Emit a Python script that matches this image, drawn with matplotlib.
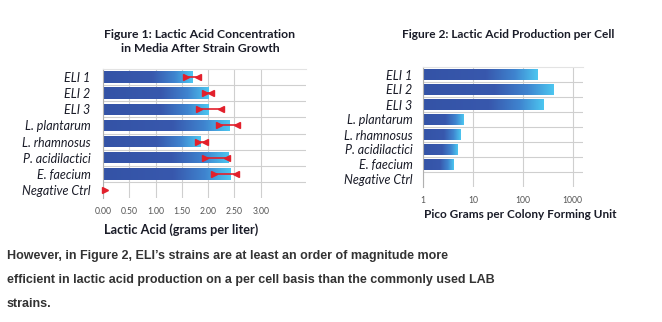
import numpy as np
import matplotlib
matplotlib.use("Agg")
import matplotlib.pyplot as plt
from matplotlib.colors import LinearSegmentedColormap
from matplotlib.ticker import FixedLocator, NullFormatter

# ---------------- data ----------------
strains = ["ELI 1", "ELI 2", "ELI 3", "L. plantarum", "L. rhamnosus",
           "P. acidilactici", "E. faecium", "Negative Ctrl"]

# Figure 1: lactic acid (g/L) with error-bar bounds
acid_values = [1.70, 2.01, 2.00, 2.40, 1.85, 2.38, 2.42, 0.0]
acid_err_low = [1.58, 1.94, 1.82, 2.21, 1.81, 1.94, 2.12, 0.04]
acid_err_high = [1.81, 2.06, 2.24, 2.54, 1.94, 2.36, 2.53, np.nan]
acid_ticks = [0.0, 0.5, 1.0, 1.5, 2.0, 2.5, 3.0]
acid_ticklabels = ["0.00", "0.50", "1.00", "1.50", "2.00", "2.50", "3.00"]

# Figure 2: pico grams per CFU (log scale)
pg_values = [193, 405, 255, 6.4, 5.7, 4.9, 4.0, 0]
pg_ticks = [1, 10, 100, 1000]
pg_ticklabels = ["1", "10", "100", "1000"]

title1 = ["Figure 1: Lactic Acid Concentration", "in Media After Strain Growth"]
title2 = "Figure 2: Lactic Acid Production per Cell"
xlabel1 = "Lactic Acid (grams per liter)"
xlabel2 = "Pico Grams per Colony Forming Unit"
caption = ["However, in Figure 2, ELI\u2019s strains are at least an order of magnitude more",
           "efficient in lactic acid production on a per cell basis than the commonly used LAB",
           "strains."]

# ---------------- style ----------------
FONT = ["Lato", "DejaVu Sans"]
DARK = "#1a1c28"
GRID = "#cfcfcf"
RED = "#e2202c"
cmap = LinearSegmentedColormap.from_list(
    "bar", [(0.0, "#3453a6"), (0.55, "#3858ad"), (0.8, "#3f84cf"), (1.0, "#4cc6f0")])

W, H = 662, 322
fig = plt.figure(figsize=(W / 100, H / 100), dpi=100)


def px_axes(left, top, right, bottom):
    return fig.add_axes([left / W, 1 - bottom / H, (right - left) / W, (bottom - top) / H])


def style_axes(ax):
    n = len(strains)
    ax.set_ylim(n - 0.5, -0.5)
    ax.set_yticks(range(n))
    ax.set_yticklabels(strains, fontstyle="italic", fontsize=9.0, color=DARK, family=FONT)
    ax.yaxis.set_minor_locator(FixedLocator(np.arange(0.5, n - 1, 1.0)))
    ax.grid(True, which="minor", axis="y", color=GRID, lw=0.8)
    ax.grid(True, which="major", axis="x", color=GRID, lw=0.8)
    ax.set_axisbelow(True)
    for s in ["right", "bottom"]:
        ax.spines[s].set_visible(False)
    ax.spines["top"].set_color("#e3e3e3")
    ax.spines["left"].set_color("#b0b0b0")
    ax.spines["left"].set_linewidth(0.8)
    ax.tick_params(axis="both", which="both", length=0)
    ax.tick_params(axis="x", labelsize=6.2, labelcolor="#555555", pad=6.5)


def gradient_bars(ax, values, left, height):
    bars = ax.barh(range(len(values)), [v - left if v > left else 0 for v in values],
                   left=left, height=height, color="none", edgecolor="none")
    grad = np.linspace(0, 1, 256).reshape(1, -1)
    to_axes = ax.transData + ax.transAxes.inverted()
    for b, v in zip(bars, values):
        if b.get_width() <= 0:
            continue
        x0, y0 = b.get_x(), b.get_y()
        x1, y1 = x0 + b.get_width(), y0 + b.get_height()
        (ax0, ay0), (ax1, ay1) = to_axes.transform([(x0, y0), (x1, y1)])
        im = ax.imshow(grad, cmap=cmap, aspect="auto", transform=ax.transAxes,
                       extent=(ax0, ax1, min(ay0, ay1), max(ay0, ay1)),
                       interpolation="bilinear", zorder=2)
        im.set_clip_path(b)


# ---------------- Figure 1 ----------------
ax1 = px_axes(103, 69, 306, 198)
ax1.set_xlim(0, 3.86)
style_axes(ax1)
ax1.tick_params(axis="y", pad=9)
ax1.set_xticks(acid_ticks)
ax1.set_xticklabels(acid_ticklabels, family=FONT)
gradient_bars(ax1, acid_values, 0, 0.72)
ax1.set_xlim(0, 3.86)
for i, (lo, hi) in enumerate(zip(acid_err_low, acid_err_high)):
    if not np.isnan(lo) and not np.isnan(hi):
        ax1.plot([lo, hi], [i, i], color=RED, lw=1.2, zorder=4, clip_on=False)
    if not np.isnan(lo):
        ax1.plot([lo], [i], marker=">", ms=4.2, color=RED, mec=RED, zorder=5, clip_on=False)
    if not np.isnan(hi):
        ax1.plot([hi], [i], marker="<", ms=4.2, color=RED, mec=RED, zorder=5, clip_on=False)
ax1.set_xlabel(xlabel1, fontsize=9.2, fontweight="bold", color=DARK, family=FONT)
ax1.xaxis.set_label_coords((181 - 103) / (306 - 103), -(230 - 198) / (198 - 69))
ax1.xaxis.label.set_va("center")
for line, base in zip(title1, [37.5, 51.5]):
    fig.text(200 / W, 1 - base / H, line, ha="center", va="baseline", fontsize=8.8,
             fontweight="bold", color=DARK, family=FONT)

# ---------------- Figure 2 ----------------
ax2 = px_axes(423, 67, 583, 187)
ax2.set_xscale("log")
ax2.set_xlim(1, 1610)
style_axes(ax2)
ax2.tick_params(axis="y", pad=7.5)
ax2.xaxis.set_major_locator(FixedLocator(pg_ticks))
ax2.xaxis.set_minor_locator(FixedLocator([]))
ax2.set_xticklabels(pg_ticklabels, family=FONT)
ax2.xaxis.set_minor_formatter(NullFormatter())
gradient_bars(ax2, pg_values, 1, 0.72)
ax2.set_xlim(1, 1610)
ax2.set_xlabel(xlabel2, fontsize=8.5, fontweight="bold", color=DARK, family=FONT)
ax2.xaxis.set_label_coords((520 - 423) / (583 - 423), -(214 - 187) / (187 - 67))
ax2.xaxis.label.set_va("center")
fig.text(508 / W, 1 - 37.5 / H, title2, ha="center", va="baseline", fontsize=8.6,
         fontweight="bold", color=DARK, family=FONT)

# ---------------- caption ----------------
for line, base in zip(caption, [259.3, 283.3, 307.2]):
    fig.text(7 / W, 1 - base / H, line, ha="left", va="baseline", fontsize=9.0,
             fontweight="bold", color="#333333",
             family=["Liberation Sans", "DejaVu Sans"])

fig.savefig("out.png", dpi=100)
